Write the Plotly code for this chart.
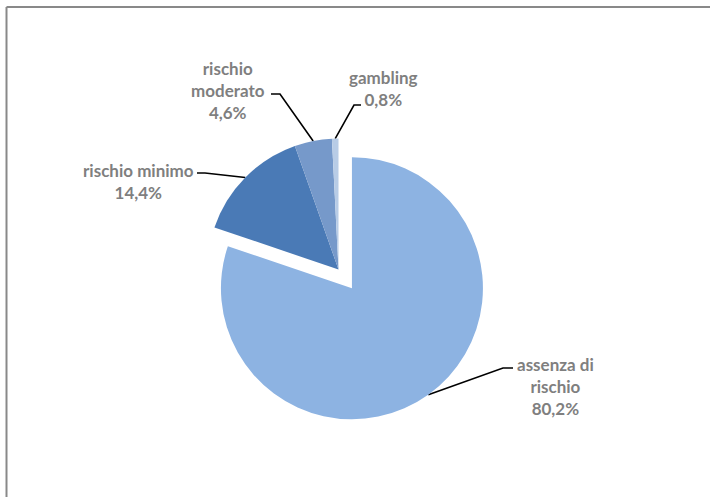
import math
import plotly.graph_objects as go

# Risk categories, shares (%) and the text lines used for each label
categories = ["assenza di rischio", "rischio minimo", "rischio moderato", "gambling"]
label_lines = [["assenza di", "rischio"], ["rischio minimo"], ["rischio", "moderato"], ["gambling"]]
shares = [80.2, 14.4, 4.6, 0.8]

# Styling
colors = ["#8DB3E2", "#4A7AB6", "#7699CA", "#B8CCE6"]
pulls = [0.176, 0, 0, 0]

W, H = 710, 497
CX, CY, R = 338.5, 269.5, 131          # pie centre and radius in pixels
box = 2 * R * (1 + max(pulls))          # plotly shrinks the radius to leave room for the pull
domain_x = [(CX - box / 2) / W, (CX + box / 2) / W]
domain_y = [1 - (CY + box / 2) / H, 1 - (CY - box / 2) / H]

# Label placement (text centre, leader elbow, leader end next to text)
label_pos = [(555, 386), (138, 181), (228, 90), (383, 88)]
leader_elbow = [(503, 368), (205, 173), (280, 94), (354, 105)]
leader_end = [(513, 368), (197, 173), (271, 94), (361, 105)]

fig = go.Figure()

fig.add_trace(go.Pie(
    labels=categories,
    values=shares,
    sort=False,
    direction="clockwise",
    rotation=0,
    pull=pulls,
    marker=dict(colors=colors, line=dict(width=0)),
    textinfo="none",
    hoverinfo="label+percent",
    showlegend=False,
    domain=dict(x=domain_x, y=domain_y),
))

total = sum(shares)
cum = 0.0
for i, v in enumerate(shares):
    mid = math.radians((cum + v / 2) / total * 360)
    cum += v
    dx, dy = math.sin(mid), -math.cos(mid)
    sx = CX + pulls[i] * R * dx
    sy = CY + pulls[i] * R * dy
    ax, ay = sx + R * dx, sy + R * dy
    ex, ey = leader_elbow[i]
    tx, ty = leader_end[i]
    fig.add_trace(go.Scatter(
        x=[ax, ex, tx], y=[ay, ey, ty], mode="lines",
        line=dict(color="black", width=1.6),
        hoverinfo="skip", showlegend=False,
    ))
    pct = f"{v:.1f}".replace(".", ",") + "%"
    fig.add_annotation(
        x=label_pos[i][0], y=label_pos[i][1], xref="x", yref="y",
        text="<br>".join(label_lines[i] + [pct]),
        showarrow=False, xanchor="center", yanchor="middle", align="center",
        font=dict(family="Lato", size=17, color="#7F7F7F", weight="bold"),
    )

# Chart area frame: left and top edges
fig.add_shape(type="line", xref="paper", yref="paper",
              x0=6.5 / W, y0=0, x1=6.5 / W, y1=1 - 7 / H,
              line=dict(color="#898989", width=2))
fig.add_shape(type="line", xref="paper", yref="paper",
              x0=6.5 / W, y0=1 - 7 / H, x1=1, y1=1 - 7 / H,
              line=dict(color="#898989", width=2))

fig.update_layout(
    width=W, height=H,
    margin=dict(l=0, r=0, t=0, b=0),
    paper_bgcolor="white", plot_bgcolor="white",
    xaxis=dict(range=[0, W], visible=False, fixedrange=True),
    yaxis=dict(range=[H, 0], visible=False, fixedrange=True),
)

fig.write_html("out.html")
